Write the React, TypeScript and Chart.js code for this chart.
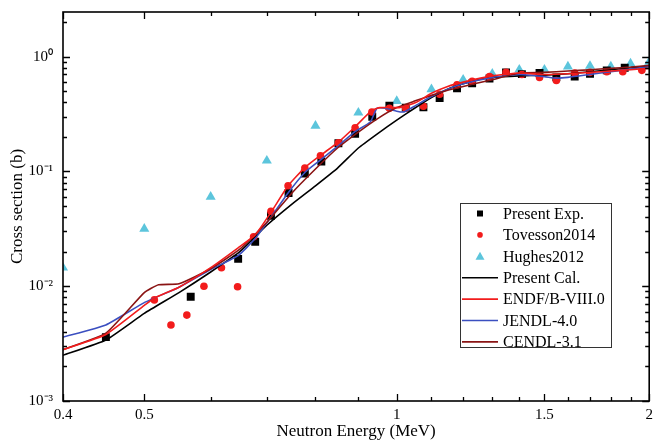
import React, { useEffect, useRef } from "react";
import { Chart, registerables } from "chart.js";

Chart.register(...registerables);

// ---- data ----
const expE = [0.45, 0.568, 0.647, 0.678, 0.708, 0.743, 0.777, 0.813, 0.852, 0.892, 0.935, 0.98, 1.025, 1.076, 1.125, 1.18, 1.23, 1.29, 1.35, 1.41, 1.48, 1.55, 1.63, 1.7, 1.78, 1.87];
const expXS = [0.0036, 0.0081, 0.0173, 0.0244, 0.041, 0.065, 0.096, 0.122, 0.176, 0.213, 0.3, 0.374, 0.36, 0.362, 0.435, 0.53, 0.585, 0.645, 0.73, 0.705, 0.72, 0.66, 0.67, 0.71, 0.76, 0.8];

const tovE = [0.514, 0.538, 0.562, 0.589, 0.618, 0.646, 0.675, 0.708, 0.742, 0.777, 0.811, 0.852, 0.892, 0.934, 0.98, 1.025, 1.076, 1.125, 1.18, 1.23, 1.29, 1.35, 1.41, 1.48, 1.55, 1.63, 1.7, 1.78, 1.86, 1.96];
const tovXS = [0.0076, 0.0046, 0.0056, 0.01, 0.0145, 0.0099, 0.027, 0.045, 0.075, 0.107, 0.137, 0.178, 0.24, 0.33, 0.355, 0.355, 0.37, 0.47, 0.57, 0.61, 0.67, 0.73, 0.7, 0.66, 0.62, 0.72, 0.73, 0.74, 0.74, 0.76];

const hugE = [0.4, 0.5, 0.6, 0.7, 0.8, 0.9, 1.0, 1.1, 1.2, 1.3, 1.4, 1.5, 1.6, 1.7, 1.8, 1.9, 2.0];
const hugXS = [0.0145, 0.0316, 0.06, 0.124, 0.25, 0.325, 0.41, 0.52, 0.63, 0.71, 0.77, 0.77, 0.82, 0.83, 0.82, 0.87, 0.9];

const calE = [0.4, 0.45, 0.5, 0.55, 0.6, 0.65, 0.7, 0.75, 0.8, 0.85, 0.9, 0.95, 1.0, 1.05, 1.1, 1.15, 1.2, 1.25, 1.3, 1.4, 1.5, 1.6, 1.7, 1.8, 1.9, 2.0];
const calXS = [0.0025, 0.0034, 0.0058, 0.0088, 0.0133, 0.02, 0.034, 0.052, 0.075, 0.107, 0.16, 0.215, 0.28, 0.355, 0.44, 0.52, 0.58, 0.63, 0.66, 0.68, 0.69, 0.71, 0.74, 0.77, 0.8, 0.82];

const endfE = [0.4, 0.45, 0.5, 0.514, 0.55, 0.6, 0.647, 0.678, 0.708, 0.742, 0.777, 0.811, 0.852, 0.892, 0.934, 0.955, 1.0, 1.01, 1.055, 1.1, 1.15, 1.2, 1.3, 1.4, 1.5, 1.6, 1.7, 1.8, 1.9, 2.0];
const endfXS = [0.0028, 0.0038, 0.0068, 0.0079, 0.0098, 0.0145, 0.0216, 0.028, 0.044, 0.075, 0.108, 0.138, 0.18, 0.245, 0.34, 0.36, 0.36, 0.36, 0.4, 0.48, 0.55, 0.6, 0.68, 0.72, 0.7, 0.71, 0.73, 0.75, 0.77, 0.79];

const jenE = [0.4, 0.45, 0.5, 0.55, 0.6, 0.647, 0.678, 0.708, 0.742, 0.777, 0.81, 0.85, 0.89, 0.93, 0.947, 0.97, 1.0, 1.02, 1.05, 1.1, 1.15, 1.2, 1.3, 1.4, 1.5, 1.55, 1.6, 1.7, 1.8, 1.9, 2.0];
const jenXS = [0.0036, 0.0046, 0.0072, 0.0098, 0.014, 0.0185, 0.026, 0.04, 0.065, 0.098, 0.125, 0.165, 0.22, 0.27, 0.355, 0.355, 0.335, 0.33, 0.37, 0.45, 0.52, 0.58, 0.66, 0.7, 0.67, 0.65, 0.66, 0.7, 0.74, 0.78, 0.82];

const cenE = [0.4, 0.45, 0.5, 0.52, 0.55, 0.6, 0.65, 0.7, 0.75, 0.8, 0.85, 0.9, 0.95, 1.0, 1.05, 1.1, 1.15, 1.2, 1.3, 1.4, 1.5, 1.6, 1.7, 1.8, 1.9, 2.0];
const cenXS = [0.0028, 0.0039, 0.0088, 0.0103, 0.0105, 0.0142, 0.021, 0.036, 0.065, 0.105, 0.16, 0.22, 0.29, 0.36, 0.41, 0.46, 0.51, 0.55, 0.63, 0.72, 0.73, 0.75, 0.77, 0.79, 0.81, 0.84];

const xTickValues = [0.4, 0.5, 1, 1.5, 2];
const xMinorTickValues = [0.6, 0.7, 0.8, 0.9, 1.1, 1.2, 1.3, 1.4, 1.6, 1.7, 1.8, 1.9];
const yTickValues = [0.001, 0.01, 0.1, 1];

const legendLabels = ["Present Exp.", "Tovesson2014", "Hughes2012", "Present Cal.", "ENDF/B-VIII.0", "JENDL-4.0", "CENDL-3.1"];

const FONT = '"Liberation Serif", "Times New Roman", serif';
const C_BLACK = "#000000";
const C_RED = "#f21c1c";
const C_CYAN = "#5cc5dc";
const C_BLUE = "#3b4fc0";
const C_BROWN = "#8a1414";

const pts = (xs: number[], ys: number[]) => xs.map((x, i) => ({ x, y: ys[i] }));

const SUP: Record<string, string> = { "-": "\u207B", "0": "\u2070", "1": "\u00B9", "2": "\u00B2", "3": "\u00B3" };
const expLabel = (v: number) =>
  "10" + String(Math.round(Math.log10(v))).split("").map((c) => SUP[c] ?? c).join("");

const framePlugin = {
  id: "frame",
  afterDraw(chart: any) {
    const { ctx, chartArea } = chart;
    const { left, right, top, bottom } = chartArea;
    const xs = chart.scales.x;
    const ys = chart.scales.y;
    ctx.save();
    ctx.strokeStyle = "#000";
    ctx.lineWidth = 1.6;
    ctx.strokeRect(left, top, right - left, bottom - top);
    ctx.lineWidth = 1.3;
    ctx.beginPath();
    const drawX = (v: number, len: number) => {
      const p = Math.round(xs.getPixelForValue(v)) + 0.5;
      ctx.moveTo(p, bottom);
      ctx.lineTo(p, bottom - len);
      ctx.moveTo(p, top);
      ctx.lineTo(p, top + len);
    };
    xTickValues.forEach((v) => drawX(v, 7));
    xMinorTickValues.forEach((v) => drawX(v, 4));
    const drawY = (v: number, len: number) => {
      const p = Math.round(ys.getPixelForValue(v)) + 0.5;
      if (p < top || p > bottom + 1) return;
      ctx.moveTo(left, p);
      ctx.lineTo(left + len, p);
      ctx.moveTo(right, p);
      ctx.lineTo(right - len, p);
    };
    for (let d = -3; d <= 0; d++) {
      for (let m = 1; m <= 9; m++) {
        const v = m * Math.pow(10, d);
        if (v > ys.max) continue;
        drawY(v, m === 1 ? 7 : 4);
      }
    }
    ctx.stroke();
    ctx.restore();
  },
};

const legendPlugin = {
  id: "boxLegend",
  afterDraw(chart: any) {
    const { ctx } = chart;
    const bx = 460, by = 203, bw = 151, bh = 144;
    ctx.save();
    ctx.fillStyle = "#fff";
    ctx.fillRect(bx, by, bw, bh);
    ctx.strokeStyle = "#333";
    ctx.lineWidth = 1;
    ctx.strokeRect(bx + 0.5, by + 0.5, bw, bh);
    const rowH = 21.4;
    const y0 = by + 10.5;
    const mx = 480;
    ctx.font = `16px ${FONT}`;
    ctx.textBaseline = "middle";
    ctx.textAlign = "left";
    legendLabels.forEach((lab, i) => {
      const y = y0 + i * rowH;
      ctx.fillStyle = "#000";
      ctx.fillText(lab, 503, y + 1);
      if (i === 0) {
        ctx.fillStyle = C_BLACK;
        ctx.fillRect(mx - 3, y - 3, 6, 6);
      } else if (i === 1) {
        ctx.fillStyle = C_RED;
        ctx.beginPath();
        ctx.arc(mx, y, 2.8, 0, Math.PI * 2);
        ctx.fill();
      } else if (i === 2) {
        ctx.fillStyle = C_CYAN;
        ctx.beginPath();
        ctx.moveTo(mx, y - 4.5);
        ctx.lineTo(mx + 4.5, y + 3.5);
        ctx.lineTo(mx - 4.5, y + 3.5);
        ctx.closePath();
        ctx.fill();
      } else {
        const col = [C_BLACK, C_RED, C_BLUE, C_BROWN][i - 3];
        ctx.strokeStyle = col;
        ctx.lineWidth = 1.6;
        ctx.beginPath();
        ctx.moveTo(462, y);
        ctx.lineTo(498, y);
        ctx.stroke();
      }
    });
    ctx.restore();
  },
};

export default function App() {
  const ref = useRef<HTMLCanvasElement>(null);
  useEffect(() => {
    if (!ref.current) return;
    const lineDs = (label: string, xs: number[], ys: number[], color: string, order: number) => ({
      label,
      data: pts(xs, ys),
      showLine: true,
      borderColor: color,
      backgroundColor: color,
      borderWidth: 1.6,
      pointRadius: 0,
      tension: 0.15,
      order,
    });
    const chart = new Chart(ref.current, {
      type: "scatter",
      data: {
        datasets: [
          {
            label: "Hughes2012",
            data: pts(hugE, hugXS),
            pointStyle: "triangle",
            pointRadius: 5.8,
            backgroundColor: C_CYAN,
            borderColor: C_CYAN,
            borderWidth: 0,
            order: 7,
          },
          {
            label: "Present Exp.",
            data: pts(expE, expXS),
            pointStyle: "rect",
            pointRadius: 5.6,
            backgroundColor: C_BLACK,
            borderColor: C_BLACK,
            borderWidth: 0,
            order: 6,
          },
          {
            label: "Tovesson2014",
            data: pts(tovE, tovXS),
            pointStyle: "circle",
            pointRadius: 3.8,
            backgroundColor: C_RED,
            borderColor: C_RED,
            borderWidth: 0,
            order: 5,
          },
          lineDs("Present Cal.", calE, calXS, C_BLACK, 4),
          lineDs("JENDL-4.0", jenE, jenXS, C_BLUE, 3),
          lineDs("CENDL-3.1", cenE, cenXS, C_BROWN, 2),
          lineDs("ENDF/B-VIII.0", endfE, endfXS, C_RED, 1),
        ],
      },
      options: {
        animation: false,
        responsive: false,
        devicePixelRatio: 1,
        layout: { padding: { left: 0, top: 12, right: 1, bottom: 0 } },
        plugins: { legend: { display: false }, tooltip: { enabled: false } },
        scales: {
          x: {
            type: "logarithmic",
            min: 0.4,
            max: 2,
            grid: { display: false, drawTicks: false },
            border: { display: false },
            afterBuildTicks: (s: any) => {
              s.ticks = xTickValues.map((v) => ({ value: v }));
            },
            afterFit: (s: any) => {
              s.height = 43;
              s.paddingLeft = 0;
              s.paddingRight = 0;
            },
            ticks: {
              color: "#000",
              font: { family: FONT, size: 15 },
              padding: 5,
              maxRotation: 0,
              autoSkip: false,
              callback: (v: any) => String(v),
            },
            title: {
              display: true,
              text: "Neutron Energy (MeV)",
              color: "#000",
              font: { family: FONT, size: 17 },
              padding: { top: 0, bottom: 2 },
            },
          },
          y: {
            type: "logarithmic",
            min: 0.001,
            max: 2.45,
            grid: { display: false, drawTicks: false },
            border: { display: false },
            afterBuildTicks: (s: any) => {
              s.ticks = yTickValues.map((v) => ({ value: v }));
            },
            afterFit: (s: any) => {
              s.width = 63;
              s.paddingTop = 0;
              s.paddingBottom = 0;
            },
            ticks: {
              color: "#000",
              font: { family: FONT, size: 15 },
              padding: 10,
              autoSkip: false,
              callback: (v: any) => expLabel(Number(v)),
            },
            title: {
              display: true,
              text: "Cross section (b)",
              color: "#000",
              font: { family: FONT, size: 17 },
              padding: { top: 7, bottom: 0 },
            },
          },
        },
      },
      plugins: [framePlugin, legendPlugin],
    } as any);
    return () => chart.destroy();
  }, []);
  return (
    <div style={{ position: "fixed", left: 0, top: 0, width: 655, height: 444, background: "#fff" }}>
      <canvas ref={ref} width={655} height={444} style={{ display: "block" }} />
    </div>
  );
}
